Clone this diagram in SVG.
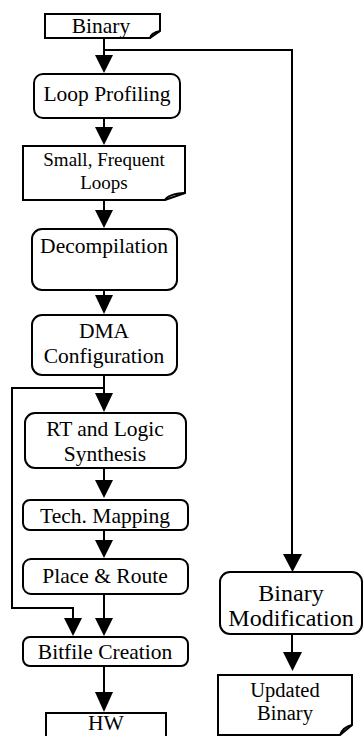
<svg xmlns="http://www.w3.org/2000/svg" width="364" height="736" viewBox="0 0 364 736">
<defs>
<style>
.box{fill:#fff;stroke:#000;stroke-width:2}
.ln{fill:none;stroke:#000;stroke-width:2}
.hd{fill:#000;stroke:none}
.t{font-family:'Liberation Serif',serif;font-size:21.5px;fill:#000;text-anchor:middle}
.sm{font-size:19px}
.lg{font-size:24px}
.md{font-size:20.5px}
</style>
</defs>
<rect width="364" height="736" fill="#fff"/>
<g id="connectors">
<path class="ln" d="M104,38 V56 M104,50 H292 V556"/>
<path class="ln" d="M104,118 V128"/>
<path class="ln" d="M104,200 V211"/>
<path class="ln" d="M104,290 V296"/>
<path class="ln" d="M104,375 V394 M104,388 H12 V608 H73 V619"/>
<path class="ln" d="M104,468 V481"/>
<path class="ln" d="M104,530 V541"/>
<path class="ln" d="M104,594 V619"/>
<path class="ln" d="M104,666 V693"/>
<path class="ln" d="M292,634 V652"/>
<polygon class="hd" points="95,55 113,55 104,73"/>
<polygon class="hd" points="95,127 113,127 104,145"/>
<polygon class="hd" points="95,210 113,210 104,228"/>
<polygon class="hd" points="95,295 113,295 104,314"/>
<polygon class="hd" points="95,393 113,393 104,412"/>
<polygon class="hd" points="95,480 113,480 104,498"/>
<polygon class="hd" points="95,540 113,540 104,558"/>
<polygon class="hd" points="95,618 113,618 104,636"/>
<polygon class="hd" points="64,618 82,618 73,636"/>
<polygon class="hd" points="95,692 113,692 104,712"/>
<polygon class="hd" points="283,554 302,554 292.5,572"/>
<polygon class="hd" points="283,652 302,652 292.5,671"/>
</g>
<g id="binary">
<path class="box" d="M45,14 H160 V31 L150,38 H45 Z"/>
<path class="ln" d="M150,38 Q151,33 160,31"/>
<text class="t" x="101" y="33">Binary</text>
</g>
<g id="loop-profiling">
<rect class="box" x="34" y="74" width="146" height="44" rx="9"/>
<text class="t" x="107" y="101">Loop Profiling</text>
</g>
<g id="small-frequent-loops">
<path class="box" d="M23,146 H185 V193 L165,200 H23 Z"/>
<path class="ln" d="M165,200 Q168,194 185,193"/>
<text class="t sm" x="104" y="166">Small, Frequent</text>
<text class="t sm" x="104" y="189">Loops</text>
</g>
<g id="decompilation">
<rect class="box" x="32" y="229" width="145" height="61" rx="10"/>
<text class="t" x="104" y="253">Decompilation</text>
</g>
<g id="dma-configuration">
<rect class="box" x="32" y="315" width="145" height="60" rx="10"/>
<text class="t" x="104" y="338">DMA</text>
<text class="t" x="104" y="363">Configuration</text>
</g>
<g id="rt-logic-synthesis">
<rect class="box" x="25" y="413" width="161" height="55" rx="10"/>
<text class="t" x="105" y="436">RT and Logic</text>
<text class="t" x="105" y="461">Synthesis</text>
</g>
<g id="tech-mapping">
<rect class="box" x="23" y="500" width="165" height="30" rx="7"/>
<text class="t" x="105" y="523">Tech. Mapping</text>
</g>
<g id="place-route">
<rect class="box" x="23" y="559" width="165" height="35" rx="8"/>
<text class="t" x="105" y="583">Place &amp; Route</text>
</g>
<g id="bitfile-creation">
<rect class="box" x="23" y="637" width="165" height="29" rx="7"/>
<text class="t" x="105" y="659">Bitfile Creation</text>
</g>
<g id="hw">
<path class="box" d="M46,713 H166 V740 H46 Z"/>
<text class="t" x="106" y="730">HW</text>
</g>
<g id="binary-modification">
<rect class="box" x="220" y="572" width="142" height="62" rx="10"/>
<text class="t lg" x="291" y="601">Binary</text>
<text class="t lg" x="291" y="626">Modification</text>
</g>
<g id="updated-binary">
<path class="box" d="M218,675 H352 V725 L340,735 H218 Z"/>
<path class="ln" d="M340,735 Q343,727 352,725"/>
<text class="t md" x="285" y="697">Updated</text>
<text class="t md" x="285" y="720">Binary</text>
</g>
</svg>
